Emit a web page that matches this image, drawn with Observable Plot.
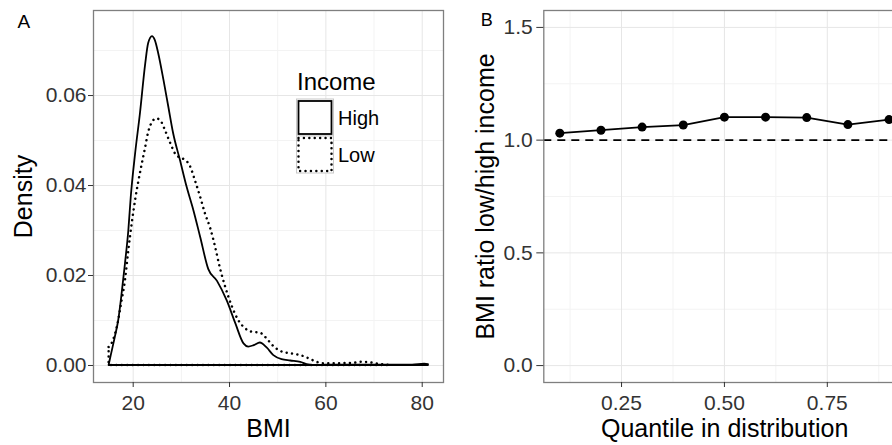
<!DOCTYPE html>
<html><head><meta charset="utf-8">
<script src="https://cdn.jsdelivr.net/npm/d3@7"></script>
<script src="https://cdn.jsdelivr.net/npm/@observablehq/plot@0.6"></script>
<style>
html,body{margin:0;padding:0;background:#fff;overflow:hidden;}
#wrap{position:relative;width:892px;height:445px;overflow:hidden;}
#wrap svg{position:absolute;top:0;}
</style></head><body><div id="wrap"></div>
<script>
// ---- Panel A data: density of BMI by income ----
const highBMI = [15, 15.3, 16.3, 17.0, 17.7, 18.4, 19.1, 19.6, 20.5, 21.5, 22.6, 23.2, 24.0, 24.6, 25.3, 26.4, 27.4, 28.4, 29.8, 31.2, 32.6, 34.0, 35.7, 37.5, 39.5, 41.3, 43.0, 44.0, 45.1, 46.4, 47.8, 49.2, 50.9, 52.7, 54.8, 56.1, 58.2, 62, 70, 78, 80.5, 81.3];
const highDensity = [0, 0.0015, 0.0063, 0.0100, 0.0159, 0.0226, 0.0300, 0.0374, 0.0470, 0.0559, 0.0670, 0.0715, 0.0731, 0.0722, 0.0693, 0.0633, 0.0574, 0.0515, 0.0456, 0.0396, 0.0344, 0.0285, 0.0213, 0.0187, 0.0144, 0.0093, 0.0048, 0.0041, 0.0044, 0.0050, 0.0039, 0.0022, 0.0013, 0.0010, 0.0007, 0.0002, 0.0, 0.0001, 0.0001, 0.0001, 0.0003, 0.0002];
const lowBMI = [15, 15.6, 16.7, 17.7, 18.4, 19.1, 19.8, 20.5, 21.2, 21.9, 22.6, 23.2, 24.0, 24.9, 25.7, 26.7, 27.8, 28.8, 29.8, 30.9, 31.9, 32.9, 34.0, 35.0, 36.1, 37.1, 38.1, 39.2, 40.6, 41.9, 43.3, 44.7, 46.4, 47.8, 49.2, 50.9, 52.7, 54.8, 56.5, 58.2, 59.6, 61.6, 65.8, 67.2, 69.3, 71.4, 73.4];
const lowDensity = [0.004, 0.0048, 0.0085, 0.0144, 0.0189, 0.0256, 0.0315, 0.0367, 0.0410, 0.0448, 0.0485, 0.0517, 0.0540, 0.0548, 0.0544, 0.0522, 0.0493, 0.0470, 0.0461, 0.0456, 0.0442, 0.0411, 0.0374, 0.0337, 0.0304, 0.0263, 0.0216, 0.0174, 0.0130, 0.0100, 0.0082, 0.0074, 0.0072, 0.0059, 0.0042, 0.0030, 0.0026, 0.0022, 0.0015, 0.0007, 0.0004, 0.0004, 0.0005, 0.0007, 0.0006, 0.0002, 0];
const incomeGroups = ["High", "Low"];
const bmiTicks = [20, 40, 60, 80];
const bmiMinorTicks = [30, 50, 70];
const densityTicks = [0, 0.02, 0.04, 0.06];
const densityMinorTicks = [0.01, 0.03, 0.05, 0.07];

// ---- Panel B data: BMI ratio by quantile ----
const quantiles = [0.1, 0.2, 0.3, 0.4, 0.5, 0.6, 0.7, 0.8, 0.9];
const ratios = [1.031, 1.044, 1.058, 1.067, 1.102, 1.102, 1.100, 1.069, 1.091];
const referenceRatio = [1];
const quantileTicks = [0.25, 0.5, 0.75];
const quantileMinorTicks = [0.125, 0.375, 0.625, 0.875];
const ratioTicks = [0, 0.5, 1.0, 1.5];
const ratioMinorTicks = [0.25, 0.75, 1.25];

const font = '"Liberation Sans", Arial, Helvetica, sans-serif';
const majorGrid = "#e6e6e6", minorGrid = "#f3f3f3";
const tickCol = "#333";
const dotted = "0.01,5.4";

const high = highBMI.map((x, i) => ({x, y: highDensity[i]}));
const low = lowBMI.map((x, i) => ({x, y: lowDensity[i]}));
const ratioData = quantiles.map((q, i) => ({q, r: ratios[i]}));

const A = Plot.plot({
  width: 450, height: 445,
  marginLeft: 93, marginRight: 7, marginTop: 10, marginBottom: 63,
  style: {fontFamily: font, background: "transparent", overflow: "visible"},
  x: {domain: [11.76, 84.42]},
  y: {domain: [-0.00378, 0.0789]},
  marks: [
    Plot.ruleX(bmiMinorTicks, {stroke: minorGrid, strokeWidth: 1}),
    Plot.ruleY(densityMinorTicks, {stroke: minorGrid, strokeWidth: 1}),
    Plot.ruleX(bmiTicks, {stroke: majorGrid, strokeWidth: 1}),
    Plot.ruleY(densityTicks, {stroke: majorGrid, strokeWidth: 1}),
    Plot.areaY(low, {x: "x", y: "y", fill: "none", stroke: "black", strokeWidth: 2.5, strokeDasharray: dotted, strokeLinecap: "round", curve: "monotone-x"}),
    Plot.areaY(high, {x: "x", y: "y", fill: "none", stroke: "black", strokeWidth: 1.8, curve: "monotone-x"}),
    Plot.frame({stroke: "#7f7f7f", strokeWidth: 1.3}),
    Plot.axisX({ticks: bmiTicks, tickSize: 5, tickPadding: 8, fontSize: 21, label: null, color: tickCol}),
    Plot.axisY({ticks: densityTicks, tickFormat: d3.format(".2f"), tickSize: 5, tickPadding: 2, fontSize: 21, label: null, color: tickCol}),
    Plot.text(["Density"], {text: d => d, frameAnchor: "left", dx: -70, rotate: -90, fontSize: 25, lineAnchor: "middle", textAnchor: "middle", fill: "black"}),
    Plot.text(["BMI"], {text: d => d, frameAnchor: "bottom", dy: 54, lineAnchor: "bottom", textAnchor: "middle", fontSize: 25, fill: "black"}),
    Plot.text(["A"], {text: d => d, frameAnchor: "top-left", dx: -76, dy: 17, lineAnchor: "bottom", textAnchor: "start", fontSize: 19, fill: "black"})
  ]
});

const B = Plot.plot({
  width: 470, height: 445,
  marginLeft: 93.3, marginRight: 15, marginTop: 10, marginBottom: 63,
  style: {fontFamily: font, background: "transparent", overflow: "visible"},
  x: {domain: [0.0611, 0.94]},
  y: {domain: [-0.075, 1.575]},
  marks: [
    Plot.ruleX(quantileMinorTicks, {stroke: minorGrid, strokeWidth: 1}),
    Plot.ruleY(ratioMinorTicks, {stroke: minorGrid, strokeWidth: 1}),
    Plot.ruleX(quantileTicks, {stroke: majorGrid, strokeWidth: 1}),
    Plot.ruleY(ratioTicks, {stroke: majorGrid, strokeWidth: 1}),
    Plot.ruleY(referenceRatio, {stroke: "black", strokeWidth: 1.8, strokeDasharray: "8,6"}),
    Plot.line(ratioData, {x: "q", y: "r", stroke: "black", strokeWidth: 1.8}),
    Plot.dot(ratioData, {x: "q", y: "r", r: 4.5, fill: "black", stroke: "none"}),
    Plot.frame({stroke: "#7f7f7f", strokeWidth: 1.3}),
    Plot.axisX({ticks: quantileTicks, tickFormat: d3.format(".2f"), tickSize: 5, tickPadding: 8, fontSize: 21, label: null, color: tickCol}),
    Plot.axisY({ticks: ratioTicks, tickFormat: d3.format(".1f"), tickSize: 7, tickPadding: 4, fontSize: 21, label: null, color: tickCol}),
    Plot.text(["BMI ratio low/high income"], {text: d => d, frameAnchor: "left", dx: -58, rotate: -90, fontSize: 25, lineAnchor: "middle", textAnchor: "middle", fill: "black"}),
    Plot.text(["Quantile in distribution"], {text: d => d, frameAnchor: "bottom", dy: 54, lineAnchor: "bottom", textAnchor: "middle", fontSize: 25, fill: "black"}),
    Plot.text(["B"], {text: d => d, frameAnchor: "top-left", dx: -63, dy: 15, lineAnchor: "bottom", textAnchor: "start", fontSize: 18, fill: "black"})
  ]
});

// Legend (inside panel A)
const lg = d3.select(A).append("g").attr("font-family", font).attr("text-anchor", "start");
lg.append("text").attr("x", 297).attr("y", 90).attr("font-size", 24).attr("fill", "black").text("Income");
incomeGroups.forEach((g, i) => {
  const y0 = 99 + i * 37;
  lg.append("rect").attr("x", 296.5).attr("y", y0).attr("width", 37).attr("height", 37)
    .attr("fill", "white").attr("stroke", "#c8c8c8").attr("stroke-width", 1);
  lg.append("rect").attr("x", 298.5).attr("y", y0 + 2).attr("width", 33).attr("height", 33)
    .attr("fill", "none").attr("stroke", "black").attr("stroke-width", g === "High" ? 1.8 : 2.5)
    .attr("stroke-linecap", "round")
    .attr("stroke-dasharray", g === "High" ? null : dotted);
  lg.append("text").attr("x", 338).attr("y", y0 + 18.5).attr("dy", "0.35em")
    .attr("font-size", 20).attr("fill", "black").text(g);
});

const wrap = document.getElementById("wrap");
A.style.left = "0px";
B.style.left = "450px";
wrap.appendChild(A);
wrap.appendChild(B);
</script></body></html>
